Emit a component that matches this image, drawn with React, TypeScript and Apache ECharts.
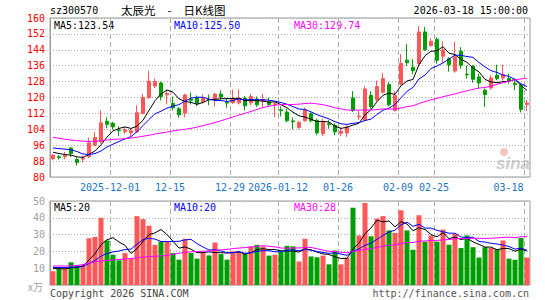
import React, { useEffect, useRef } from 'react';
import * as echarts from 'echarts';

const dates = [
  '2025-11-17','2025-11-18','2025-11-19','2025-11-20','2025-11-21','2025-11-24','2025-11-25','2025-11-26','2025-11-27','2025-11-28',
  '2025-12-01','2025-12-02','2025-12-03','2025-12-04','2025-12-05','2025-12-08','2025-12-09','2025-12-10','2025-12-11','2025-12-12',
  '2025-12-15','2025-12-16','2025-12-17','2025-12-18','2025-12-19','2025-12-22','2025-12-23','2025-12-24','2025-12-25','2025-12-26',
  '2025-12-29','2025-12-30','2025-12-31','2026-01-05','2026-01-06','2026-01-07','2026-01-08','2026-01-09',
  '2026-01-12','2026-01-13','2026-01-14','2026-01-15','2026-01-16','2026-01-19','2026-01-20','2026-01-21','2026-01-22','2026-01-23',
  '2026-01-26','2026-01-27','2026-01-28','2026-01-29','2026-01-30','2026-02-02','2026-02-03','2026-02-04','2026-02-05','2026-02-06',
  '2026-02-09','2026-02-10','2026-02-11','2026-02-12','2026-02-13','2026-02-24',
  '2026-02-25','2026-02-26','2026-02-27','2026-03-02','2026-03-03','2026-03-04','2026-03-05','2026-03-06','2026-03-09','2026-03-10',
  '2026-03-11','2026-03-12','2026-03-13','2026-03-16','2026-03-17',
  '2026-03-18',
];

const opens = [
  89.2, 90.2, 90.2, 94.6, 88.8, 89.0, 90.2, 96.0, 97.7, 108.0,
  107.0, 103.7, 102.8, 102.2, 102.7, 112.0, 120.0, 125.8, 127.3, 121.3,
  117.0, 114.3, 112.2, 119.2, 120.0, 117.8, 119.0, 119.2, 121.7, 117.5,
  117.4, 117.3, 119.7, 117.3, 119.2, 118.0, 117.8, 116.5, 113.8, 112.7,
  108.2, 104.8, 108.3, 111.8, 108.5, 101.8, 106.8, 106.0, 102.0, 102.2,
  119.8, 110.3, 108.5, 121.0, 118.8, 122.7, 126.5, 113.5, 126.8, 138.8,
  135.2, 137.0, 153.0, 146.2, 149.2, 140.8, 139.5, 133.3, 143.2, 131.7,
  135.8, 130.3, 123.7, 124.8, 131.2, 129.8, 129.5, 127.2, 126.2, 116.5,
];
const closes = [
  91.0, 89.8, 90.8, 91.8, 87.3, 89.5, 97.2, 99.8, 107.3, 106.5,
  105.2, 103.3, 103.8, 103.3, 112.3, 120.0, 128.2, 128.0, 120.5, 122.0,
  114.8, 111.3, 121.3, 118.6, 116.8, 119.5, 118.7, 121.7, 120.2, 117.2,
  119.5, 119.7, 115.8, 120.5, 116.3, 119.0, 116.5, 116.9, 113.4, 108.3,
  107.8, 107.5, 113.7, 108.3, 102.2, 108.0, 106.3, 102.7, 103.0, 105.2,
  113.5, 110.7, 124.3, 115.5, 125.5, 129.5, 116.3, 121.0, 137.2, 137.5,
  133.5, 153.0, 144.0, 148.3, 138.7, 144.0, 136.5, 140.5, 136.2, 131.4,
  129.2, 127.3, 121.5, 129.8, 129.5, 131.5, 128.5, 126.5, 114.0, 117.2,
];
const lows = [
  88.5, 88.8, 88.9, 90.0, 85.7, 87.4, 89.6, 95.5, 96.8, 104.5,
  103.8, 100.5, 101.8, 100.5, 102.2, 111.5, 119.3, 124.8, 118.5, 116.5,
  113.5, 109.8, 110.0, 116.5, 115.5, 117.0, 116.2, 115.5, 119.0, 114.8,
  116.7, 116.5, 113.5, 116.0, 115.3, 115.2, 115.3, 110.2, 110.5, 107.5,
  104.0, 104.3, 107.8, 107.5, 101.0, 100.5, 104.3, 101.0, 100.5, 100.2,
  112.7, 108.8, 108.0, 114.3, 118.0, 122.0, 115.5, 113.0, 126.0, 136.0,
  131.8, 136.5, 143.5, 145.5, 137.0, 137.5, 133.0, 132.5, 134.5, 129.5,
  127.5, 124.2, 115.3, 124.0, 128.7, 128.2, 127.0, 123.7, 112.5, 113.2,
];
const highs = [
  91.5, 91.1, 92.6, 95.0, 89.8, 90.6, 99.8, 102.6, 113.5, 110.0,
  107.8, 105.5, 105.2, 104.2, 116.0, 121.8, 133.5, 129.5, 128.0, 124.0,
  120.5, 115.2, 121.8, 122.5, 121.0, 121.5, 121.5, 122.3, 123.5, 119.8,
  124.0, 124.0, 120.7, 121.8, 120.5, 121.8, 120.0, 117.7, 115.5, 114.3,
  110.0, 108.0, 115.0, 112.5, 109.3, 109.3, 108.5, 107.0, 105.0, 106.0,
  123.2, 113.2, 125.5, 123.2, 128.5, 132.2, 127.7, 123.0, 141.8, 147.0,
  139.3, 156.0, 155.5, 149.8, 150.3, 148.2, 140.3, 148.0, 145.3, 136.0,
  136.2, 132.0, 124.5, 131.2, 136.5, 136.5, 132.0, 128.7, 127.0, 118.7,
];
// volume, in 万
const volumes = [
  8.2, 9.8, 9.8, 13.5, 11.4, 11.8, 27.8, 28.6, 40.0, 26.5,
  18.0, 14.7, 19.0, 15.7, 41.0, 39.2, 35.3, 23.9, 25.9, 25.9,
  19.0, 15.1, 27.5, 19.0, 15.7, 19.0, 17.6, 25.3, 18.4, 15.1,
  20.0, 20.0, 18.4, 22.9, 23.9, 22.9, 17.5, 18.0, 19.6, 23.3,
  23.0, 14.0, 27.5, 17.0, 16.5, 17.5, 12.3, 20.5, 12.3, 16.3,
  46.0, 29.5, 48.8, 29.0, 39.5, 41.0, 32.5, 31.0, 44.5, 32.5,
  21.0, 41.5, 25.8, 29.5, 25.8, 33.0, 24.0, 30.5, 22.0, 29.5,
  22.5, 16.3, 22.5, 22.0, 21.5, 26.5, 15.7, 15.0, 28.0, 16.3,
];

// Moving-average values at the start of the window (they depend on earlier days)
const priceMa5Head = [92.5, 91.8, 91.3, 91.0];
const priceMa10Head = [94.6, 94.3, 94.0, 93.7, 92.8, 91.6, 91.3, 91.8, 93.1];
const priceMa30Head = [
  100.0, 99.5, 99.0, 98.6, 98.3, 98.0, 97.9, 98.0, 98.3, 98.6,
  98.9, 99.1, 99.3, 99.6, 100.0, 100.5, 101.0, 101.6, 102.2, 102.6,
  103.2, 103.6, 104.0, 104.5, 105.1, 105.8, 106.6, 107.4, 108.3,
];
const volMa5Head = [9.8, 9.7, 9.6, 10.2];
const volMa10Head = [10.5, 10.4, 10.4, 10.6, 10.7, 11.0, 12.8, 14.6, 17.2];
const volMa30Head = [
  11.3, 11.3, 11.3, 11.4, 11.6, 12.2, 13.0, 13.8, 14.3, 14.6,
  14.9, 15.2, 15.5, 15.8, 16.2, 16.6, 16.9, 17.1, 17.3, 17.5,
  18.2, 18.9, 19.4, 19.7, 19.9, 20.1, 20.3, 20.6, 20.9,
];

const tickDates = ['2025-12-01', '2025-12-15', '2025-12-29', '2026-01-12', '2026-01-26', '2026-02-09', '2026-02-25', '2026-03-18'];
const tickLabels = ['2025-12-01', '12-15', '12-29', '2026-01-12', '01-26', '02-09', '02-25', '03-18'];
const priceTicks = { min: 80, max: 160, step: 8 };
const volTicks = { min: 0, max: 50, step: 10 };

const stockCode = 'sz300570';
const titleParts = ['太辰光', ' - ', '日K线图'];
const timeText = '2026-03-18 15:00:00';
const priceLegend = ['MA5:123.54', 'MA10:125.50', 'MA30:129.74'];
const volLegend = ['MA5:20', 'MA10:20', 'MA30:28'];

const RED = '#FF5757';
const GREEN = '#009E00';
const MONO = '"DejaVu Sans Mono", "Liberation Mono", monospace';
const CJK = '"Noto Sans CJK SC", sans-serif';

function movingAvg(vals: number[], n: number, head: number[]) {
  return vals.map((_, i) => {
    if (i < n - 1) return head[i];
    let s = 0;
    for (let k = i - n + 1; k <= i; k++) s += vals[k];
    return +(s / n).toFixed(3);
  });
}

function buildOption() {
  const candle = dates.map((_, i) => [opens[i], closes[i], lows[i], highs[i]]);
  const volData = volumes.map((v, i) => ({
    value: v,
    itemStyle: { color: closes[i] >= opens[i] ? RED : GREEN },
  }));
  const boundaries = [...dates, ''];
  const tickIdx = tickDates.map((d) => dates.indexOf(d));
  const isTick = (i: number) => tickIdx.indexOf(i) >= 0;
  const dashed = { show: true, interval: (i: number) => isTick(i), lineStyle: { color: '#aaaaaa', type: [5, 3], width: 1 } };
  const dotted = { show: true, lineStyle: { color: '#a8a8a8', type: [1, 2], width: 1 } };
  const lastTick = tickIdx[tickIdx.length - 1];

  const lineS = (data: number[], color: string, xi: number, yi: number) => ({
    type: 'line', data, xAxisIndex: xi, yAxisIndex: yi, showSymbol: false, symbol: 'none',
    lineStyle: { color, width: 1 }, silent: true, z: 5,
  });

  const txt = (text: string, x: number, y: number, fill: string, extra: any = {}) => ({
    type: 'text', x, y, silent: true,
    style: { text, fill, fontSize: 10, fontFamily: MONO, verticalAlign: 'middle', align: 'left', ...extra },
  });

  return {
    animation: false,
    backgroundColor: '#ffffff',
    grid: [
      { left: 50, top: 18, width: 480, height: 159, show: true, borderColor: '#999999', borderWidth: 1 },
      { left: 50, top: 201, width: 480, height: 84, show: true, borderColor: '#999999', borderWidth: 1 },
    ],
    xAxis: [
      { type: 'category', gridIndex: 0, data: dates, boundaryGap: true, show: false },
      {
        type: 'category', gridIndex: 0, data: boundaries, boundaryGap: false, position: 'bottom',
        axisLine: { show: false }, axisTick: { show: false },
        axisLabel: {
          interval: (i: number) => isTick(i), margin: 5, color: '#1874CD', fontSize: 10, fontFamily: MONO,
          formatter: (_v: string, i: number) => {
            const k = tickIdx.indexOf(i);
            if (k < 0) return '';
            if (i === lastTick) return '{r|' + tickLabels[k] + '}';
            return tickLabels[k];
          },
          rich: { r: { color: '#1874CD', fontSize: 10, fontFamily: MONO, padding: [0, 31, 0, 0] } },
        },
        splitLine: dashed,
      },
      { type: 'category', gridIndex: 1, data: dates, boundaryGap: true, show: false },
      {
        type: 'category', gridIndex: 1, data: boundaries, boundaryGap: false, position: 'bottom',
        axisLine: { show: false }, axisTick: { show: false }, axisLabel: { show: false },
        splitLine: dashed,
      },
    ],
    yAxis: [
      {
        type: 'value', gridIndex: 0, min: priceTicks.min, max: priceTicks.max, interval: priceTicks.step,
        axisLine: { show: true, lineStyle: { color: '#999999' } }, axisTick: { show: false },
        axisLabel: { color: '#FF0000', fontSize: 10, fontFamily: MONO, margin: 5 },
        splitLine: dotted,
      },
      {
        type: 'value', gridIndex: 1, min: volTicks.min, max: volTicks.max, interval: volTicks.step,
        axisLine: { show: true, lineStyle: { color: '#999999' } }, axisTick: { show: false },
        axisLabel: { color: '#a0a0a0', fontSize: 10, fontFamily: MONO, margin: 5, formatter: (v: number) => (v === 0 ? '' : String(v)) },
        splitLine: dotted,
      },
    ],
    series: [
      {
        type: 'candlestick', data: candle, xAxisIndex: 0, yAxisIndex: 0, barWidth: 4, silent: true,
        itemStyle: { color: RED, color0: GREEN, borderColor: RED, borderColor0: GREEN, borderWidth: 1 },
      },
      lineS(movingAvg(closes, 5, priceMa5Head), '#000000', 0, 0),
      lineS(movingAvg(closes, 10, priceMa10Head), '#0000FF', 0, 0),
      lineS(movingAvg(closes, 30, priceMa30Head), '#FF00FF', 0, 0),
      { type: 'bar', data: volData, xAxisIndex: 2, yAxisIndex: 1, barWidth: 5, silent: true },
      lineS(movingAvg(volumes, 5, volMa5Head), '#000000', 2, 1),
      lineS(movingAvg(volumes, 10, volMa10Head), '#0000FF', 2, 1),
      lineS(movingAvg(volumes, 30, volMa30Head), '#FF00FF', 2, 1),
    ],
    graphic: [
      txt(stockCode, 50, 10, '#000000'),
      {
        type: 'text', x: 121, y: 10, silent: true,
        style: {
          text: '{a|' + titleParts[0] + '}{s|' + titleParts[1] + '}{a|' + titleParts[2] + '}',
          verticalAlign: 'middle', align: 'left', fill: '#000000',
          rich: {
            a: { fontSize: 11.5, fontFamily: CJK, fill: '#000000' },
            s: { fontSize: 11.5, fontFamily: CJK, fill: '#000000', width: 28, align: 'center' },
          },
        },
      },
      txt(timeText, 528, 10, '#000000', { align: 'right' }),
      txt(priceLegend[0], 54, 25, '#000000'),
      txt(priceLegend[1], 174, 25, '#0000FF'),
      txt(priceLegend[2], 294, 25, '#FF00FF'),
      txt(volLegend[0], 54, 207, '#000000'),
      txt(volLegend[1], 174, 207, '#0000FF'),
      txt(volLegend[2], 294, 207, '#FF00FF'),
      txt('x万', 28, 286, '#a0a0a0', { fontFamily: CJK }),
      txt('Copyright 2026 SINA.COM', 50, 293, '#444444'),
      txt('http://finance.sina.com.cn', 529, 293, '#555555', { align: 'right' }),
      { type: 'circle', shape: { cx: 504, cy: 152, r: 4 }, style: { fill: '#f6c3c3' }, silent: true, z: 1 },
      txt('sina', 496, 163, '#cdcdcd', { fontSize: 17, fontStyle: 'italic', fontWeight: 'bold', fontFamily: 'Arial, "Liberation Sans", sans-serif' }),
    ],
  };
}

export default function App() {
  const ref = useRef<HTMLDivElement>(null);
  useEffect(() => {
    document.body.style.margin = '0';
    const chart = echarts.init(ref.current as HTMLDivElement, null, { renderer: 'svg' });
    chart.setOption(buildOption() as any);
    return () => chart.dispose();
  }, []);
  return <div ref={ref} style={{ width: 545, height: 300 }} />;
}
